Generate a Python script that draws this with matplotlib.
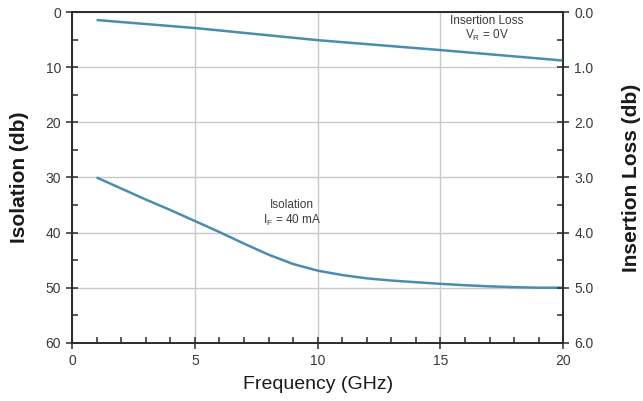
import matplotlib
matplotlib.use("Agg")
import matplotlib.pyplot as plt
from matplotlib.ticker import MultipleLocator, FormatStrFormatter

# Data
freq_iso = [1, 2, 3, 4, 5, 6, 7, 8, 9, 10, 11, 12, 13, 14, 15, 16, 17, 18, 19, 20]
isolation = [30.0, 32.0, 34.0, 35.9, 37.9, 39.9, 42.0, 44.0, 45.7, 46.9, 47.7, 48.3,
             48.7, 49.0, 49.3, 49.55, 49.75, 49.9, 50.0, 50.0]
freq_il = [1, 5, 10, 15, 20]
insertion_loss = [0.145, 0.29, 0.51, 0.69, 0.88]

x_ticks = [0, 5, 10, 15, 20]
left_ticks = [0, 10, 20, 30, 40, 50, 60]
right_ticks = [0.0, 1.0, 2.0, 3.0, 4.0, 5.0, 6.0]

line_color = "#4a8db0"
axis_color = "#2b2b2b"
text_color = "#3a3a3a"
grid_color = "#c9c9c9"

fig = plt.figure(figsize=(6.43, 4.01), dpi=100)
ax = fig.add_axes([0.112, 0.145, 0.764, 0.825])
ax2 = ax.twinx()

tick_family = ["Liberation Sans", "DejaVu Sans"]

ax.set_xlim(0, 20)
ax.set_ylim(60, 0)
ax2.set_ylim(6, 0)

ax.set_xticks(x_ticks)
ax.set_yticks(left_ticks)
ax2.set_yticks(right_ticks)
ax.xaxis.set_minor_locator(MultipleLocator(1))
ax.yaxis.set_minor_locator(MultipleLocator(5))
ax2.yaxis.set_minor_locator(MultipleLocator(0.5))
ax2.yaxis.set_major_formatter(FormatStrFormatter("%.1f"))

ax.grid(True, which="major", color=grid_color, linewidth=1.0)
ax.set_axisbelow(True)

for a in (ax, ax2):
    for s in a.spines.values():
        s.set_color(axis_color)
        s.set_linewidth(1.2)
    a.tick_params(which="major", direction="inout", length=8, width=1.1,
                  color=axis_color, labelcolor=text_color, pad=4)
    a.tick_params(which="minor", direction="in", length=4, width=1.1,
                  color=axis_color)
    for lab in a.get_xticklabels() + a.get_yticklabels():
        lab.set_fontfamily(tick_family)
        lab.set_fontsize(10)

ax.plot(freq_iso, isolation, color=line_color, linewidth=1.8,
        solid_capstyle="butt", solid_joinstyle="round")
ax2.plot(freq_il, insertion_loss, color=line_color, linewidth=1.8,
         solid_capstyle="butt", solid_joinstyle="round")

ax.set_xlabel("Frequency (GHz)", fontsize=14, family=["Liberation Sans Narrow", "Liberation Sans", "DejaVu Sans"],
              color="#1a1a1a", labelpad=6)
ax.set_ylabel("Isolation (db)", fontsize=15, family=tick_family,
              fontweight="bold", color="#1a1a1a", labelpad=12)
ax2.set_ylabel("Insertion Loss (db)", fontsize=15, family=tick_family,
               fontweight="bold", color="#1a1a1a", rotation=90, labelpad=20)

ax.text(16.9, 3.1, "Insertion Loss\n" + r"V$_\mathregular{R}$ = 0V", ha="center", va="center",
        fontsize=8.5, family=tick_family, color=text_color, linespacing=1.15,
        multialignment="center")
ax.text(8.96, 36.5, "Isolation\n" + r"I$_\mathregular{F}$ = 40 mA", ha="center", va="center",
        fontsize=8.5, family=tick_family, color=text_color, linespacing=1.15,
        multialignment="center")

fig.savefig("out.png", dpi=100)
